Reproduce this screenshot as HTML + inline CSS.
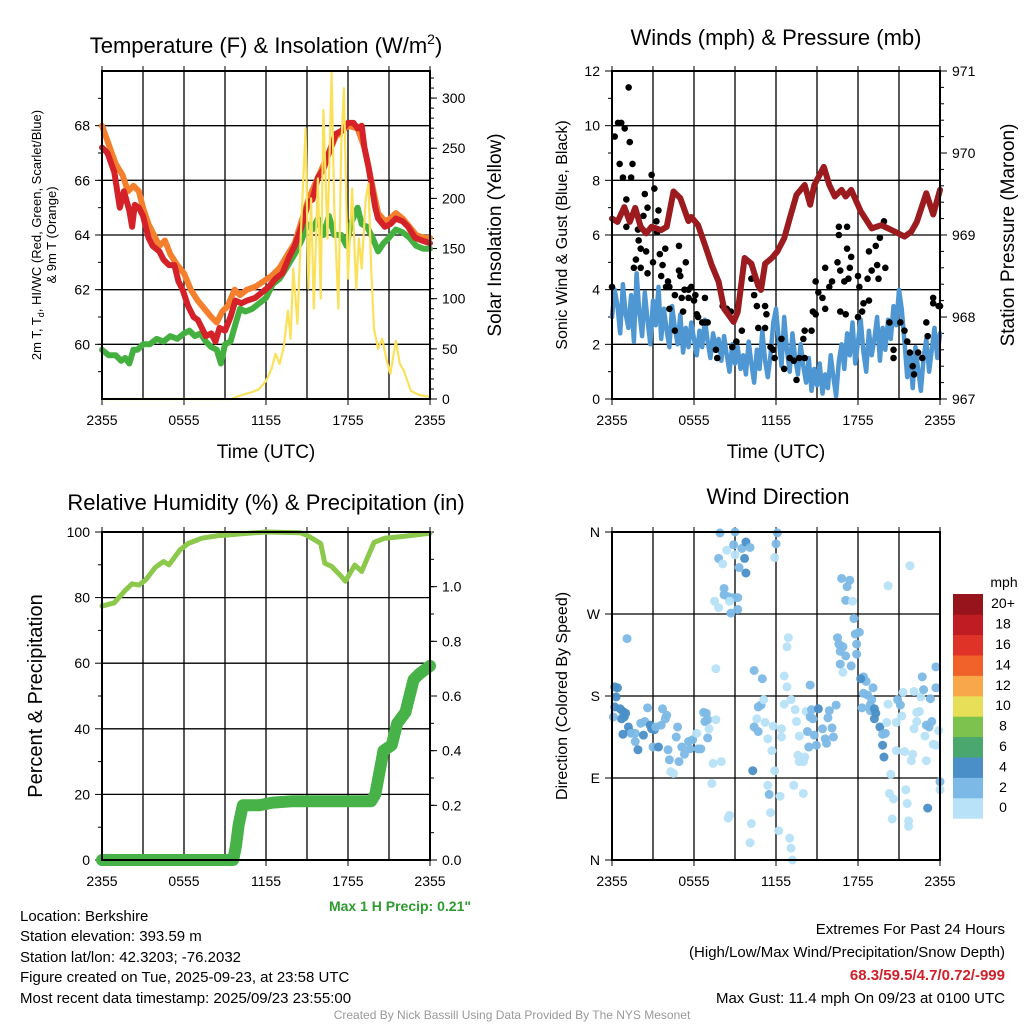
<!DOCTYPE html>
<html><head><meta charset="utf-8">
<style>
html,body{margin:0;padding:0;background:#fff;}
body{width:1024px;height:1024px;overflow:hidden;font-family:"Liberation Sans",sans-serif;}
svg text{font-family:"Liberation Sans",sans-serif;}
</style></head>
<body>
<svg id="fig" width="1024" height="1024" viewBox="0 0 1024 1024" xmlns="http://www.w3.org/2000/svg">
<g id="p1"></g>
<g id="p2"></g>
<g id="p3"></g>
<g id="p4"></g>
<g id="txt">
<text x="266" y="53" font-size="22" text-anchor="middle">Temperature (F) &amp; Insolation (W/m<tspan font-size="14" dy="-9">2</tspan><tspan dy="9">)</tspan></text>
<text x="776" y="45" font-size="22" text-anchor="middle">Winds (mph) &amp; Pressure (mb)</text>
<text x="266" y="510" font-size="22" text-anchor="middle">Relative Humidity (%) &amp; Precipitation (in)</text>
<text x="778" y="504" font-size="22" text-anchor="middle">Wind Direction</text>
<text x="266" y="458" font-size="19" text-anchor="middle">Time (UTC)</text>
<text x="776" y="458" font-size="19" text-anchor="middle">Time (UTC)</text>
<text transform="translate(41,235) rotate(-90)" font-size="13" text-anchor="middle">2m T, T<tspan font-size="9" dy="3">d</tspan><tspan dy="-3">, HI/WC (Red, Green, Scarlet/Blue)</tspan></text>
<text transform="translate(56,235) rotate(-90)" font-size="13" text-anchor="middle">&amp; 9m T (Orange)</text>
<text transform="translate(501,235) rotate(-90)" font-size="19" text-anchor="middle">Solar Insolation (Yellow)</text>
<text transform="translate(567,235) rotate(-90)" font-size="16" text-anchor="middle">Sonic Wind &amp; Gust (Blue, Black)</text>
<text transform="translate(1014,235) rotate(-90)" font-size="19" text-anchor="middle">Station Pressure (Maroon)</text>
<text transform="translate(42,696) rotate(-90)" font-size="20" text-anchor="middle">Percent &amp; Precipitation</text>
<text transform="translate(567,696) rotate(-90)" font-size="16" text-anchor="middle">Direction (Colored By Speed)</text>
<text x="471" y="911" font-size="14" font-weight="bold" fill="#2e9b2e" text-anchor="end">Max 1 H Precip: 0.21"</text>
<g font-size="15">
<text x="20" y="921">Location: Berkshire</text>
<text x="20" y="941">Station elevation: 393.59 m</text>
<text x="20" y="962">Station lat/lon: 42.3203; -76.2032</text>
<text x="20" y="982">Figure created on Tue, 2025-09-23, at 23:58 UTC</text>
<text x="20" y="1003">Most recent data timestamp: 2025/09/23 23:55:00</text>
</g>
<g font-size="15" text-anchor="end">
<text x="1005" y="934">Extremes For Past 24 Hours</text>
<text x="1005" y="957">(High/Low/Max Wind/Precipitation/Snow Depth)</text>
<text x="1005" y="980" fill="#d0202a" font-weight="bold">68.3/59.5/4.7/0.72/-999</text>
<text x="1005" y="1003">Max Gust: 11.4 mph On 09/23 at 0100 UTC</text>
</g>
<text x="512" y="1019" font-size="12" fill="#999" text-anchor="middle">Created By Nick Bassill Using Data Provided By The NYS Mesonet</text>
</g>
</svg>
<script>
// ---------- DATA ----------
const xTickLabels = ["2355","0555","1155","1755","2355"];
const tempT = [[0,67.2],[0.4,67.0],[0.9,66.3],[1.3,65.0],[1.6,65.6],[2.0,64.9],[2.2,64.3],[2.4,65.1],[2.7,65.0],[3.0,64.7],[3.4,63.9],[3.7,63.6],[4.2,63.4],[4.5,63.1],[4.9,62.9],[5.3,62.9],[5.6,62.3],[5.9,62.0],[6.3,61.4],[6.7,61.0],[7.0,60.9],[7.3,60.6],[7.6,60.3],[8.0,60.4],[8.3,60.1],[8.6,60.6],[9.0,60.5],[9.4,61.0],[9.75,61.6],[10.2,61.5],[10.6,61.6],[11.2,61.7],[11.7,61.9],[12.2,62.1],[12.7,62.4],[13.2,62.6],[13.7,63.2],[14.1,63.6],[14.6,64.3],[15.1,65.2],[15.4,65.3],[15.8,66.1],[16.2,66.4],[16.6,67.0],[17.1,67.7],[17.5,67.8],[18.0,68.1],[18.4,68.1],[18.7,67.9],[19.0,68.0],[19.2,67.2],[19.5,66.5],[19.7,65.9],[20.0,65.0],[20.2,64.6],[20.7,64.3],[21.1,64.4],[21.5,64.6],[22.0,64.5],[22.4,64.3],[22.9,63.9],[23.4,63.8],[24,63.7]];
const temp9m = [[0,68.0],[0.5,67.3],[1.0,66.6],[1.5,66.2],[1.9,65.6],[2.3,65.8],[2.7,65.6],[3.0,65.0],[3.4,64.4],[3.8,64.0],[4.2,63.6],[4.6,63.8],[5.0,63.3],[5.5,62.9],[6.0,62.6],[6.5,62.0],[7.0,61.6],[7.5,61.3],[8.0,61.0],[8.4,60.8],[8.8,61.2],[9.2,61.4],[9.7,62.0],[10.1,61.8],[10.6,62.0],[11.2,62.1],[11.8,62.3],[12.4,62.5],[13.0,62.8],[13.6,63.3],[14.1,63.7],[14.6,64.5],[15.1,65.3],[15.8,66.1],[16.6,67.0],[17.1,67.6],[18.0,68.0],[18.7,67.9],[19.2,67.2],[19.7,66.0],[20.2,64.8],[20.7,64.5],[21.1,64.6],[21.5,64.8],[22.0,64.6],[22.5,64.3],[23.0,64.0],[23.5,63.9],[24,63.9]];
const tempTd = [[0,59.8],[0.5,59.6],[1.0,59.6],[1.4,59.4],[1.7,59.5],[2.0,59.3],[2.3,59.8],[2.6,59.8],[3.0,60.0],[3.5,60.0],[4.0,60.2],[4.5,60.1],[5.0,60.3],[5.5,60.2],[6.0,60.4],[6.4,60.5],[6.8,60.3],[7.2,60.4],[7.6,60.1],[8.0,59.9],[8.4,59.8],[8.7,59.3],[9.0,60.0],[9.4,60.1],[9.8,60.8],[10.1,61.3],[10.5,61.2],[11.0,61.3],[11.5,61.5],[12.0,61.7],[12.5,62.2],[13.0,62.4],[13.5,62.8],[14.1,63.3],[14.6,63.8],[15.0,64.4],[15.4,64.2],[15.8,64.6],[16.2,64.0],[16.6,64.7],[17.0,64.0],[17.5,64.0],[17.9,63.6],[18.2,64.4],[18.7,65.0],[19.0,64.4],[19.4,64.3],[19.8,63.9],[20.2,63.4],[20.6,63.7],[21.0,63.9],[21.5,64.2],[22.0,64.1],[22.5,63.9],[23.0,63.6],[23.5,63.5],[24,63.5]];
const solar = [[0,0],[9.5,0],[10.0,3],[11.0,7],[11.5,10],[12.0,18],[12.4,30],[12.7,45],[13.0,35],[13.3,52],[13.6,88],[13.8,60],[14.0,130],[14.3,75],[14.6,180],[14.9,270],[15.1,110],[15.3,200],[15.5,90],[15.8,220],[16.0,100],[16.2,288],[16.5,160],[16.8,325],[17.0,190],[17.3,90],[17.5,250],[17.7,310],[18.0,120],[18.3,210],[18.6,110],[18.8,160],[19.0,130],[19.3,200],[19.5,215],[19.7,130],[19.9,70],[20.2,50],[20.5,60],[20.8,40],[21.1,25],[21.5,58],[21.8,35],[22.1,28],[22.6,8],[23.2,4],[24,2]];
// Panel 2 — sonic wind every 0.2 h
const windSpeed = [3.0,4.0,3.4,2.4,4.2,3.1,2.6,3.8,2.1,4.6,3.2,2.3,3.9,2.9,2.0,3.6,2.7,4.1,2.2,3.3,2.5,1.9,3.4,2.6,2.0,3.1,1.7,2.6,1.9,2.8,2.2,1.6,2.5,1.9,2.9,2.1,1.5,2.4,1.8,2.2,1.4,2.3,1.6,1.0,2.0,1.3,1.9,1.1,1.6,0.9,2.1,1.3,0.6,1.8,1.1,2.5,1.4,0.8,1.6,2.8,3.3,2.2,1.2,3.0,1.8,1.0,2.4,1.5,0.9,2.0,1.2,0.6,1.5,0.3,1.1,0.5,1.3,0.2,0.9,0.4,1.6,0.8,0.1,1.4,2.0,1.1,2.4,1.6,2.8,1.3,2.1,2.9,1.7,1.0,2.5,1.6,2.2,3.0,1.4,2.6,1.8,2.9,2.2,3.4,2.7,4.0,3.3,2.1,0.8,1.7,0.4,1.9,1.1,0.3,1.5,2.2,1.0,1.8,2.6,1.5,2.4];
const windStepHours = 0.2;
const gusts = [[0.0,4.1],[0.2,9.6],[0.44,10.1],[0.68,10.1],[0.93,9.9],[1.22,11.4],[1.3,9.4],[0.56,8.6],[0.8,8.1],[1.4,8.1],[1.5,8.6],[1.05,7.3],[2.9,8.2],[3.1,7.7],[2.4,7.5],[2.6,7.0],[3.4,6.9],[1.05,6.3],[1.9,6.2],[2.3,6.7],[3.25,6.5],[3.3,6.1],[1.95,5.8],[2.1,5.5],[2.5,5.4],[3.9,5.5],[3.5,5.3],[4.9,5.6],[1.75,5.1],[2.1,4.8],[1.6,4.8],[2.6,4.6],[3.0,5.0],[3.7,4.9],[5.4,5.0],[4.9,4.7],[5.0,4.5],[3.6,4.5],[4.1,4.3],[3.95,4.1],[4.2,4.1],[4.6,3.8],[5.1,3.7],[5.3,4.0],[5.6,4.0],[5.8,4.1],[6.1,3.8],[5.6,3.7],[6.0,3.6],[6.8,3.7],[5.2,3.2],[4.2,3.3],[6.2,3.1],[6.3,3.0],[6.6,2.8],[6.8,2.8],[7.0,2.8],[4.6,2.5],[7.6,1.8],[7.7,1.5],[8.1,3.4],[8.4,3.3],[8.7,3.2],[8.8,1.9],[9.1,2.1],[9.5,2.5],[10.2,4.4],[10.4,3.8],[10.6,3.4],[11.2,3.4],[11.3,3.1],[10.7,2.6],[11.2,2.6],[11.6,1.9],[11.8,1.8],[11.9,1.5],[12.4,2.2],[12.6,1.1],[13.0,1.5],[13.3,1.4],[13.5,0.7],[13.7,1.5],[14.1,1.5],[14.0,2.2],[14.1,2.5],[14.6,2.5],[14.7,3.2],[14.9,3.1],[15.1,3.9],[15.4,3.7],[15.6,3.3],[14.9,4.3],[15.9,4.1],[16.1,4.3],[15.6,4.8],[16.5,5.0],[16.7,4.7],[17.0,4.3],[17.3,4.4],[17.4,4.8],[18.0,4.5],[18.1,4.1],[17.2,5.5],[17.5,5.2],[16.6,6.3],[17.2,6.3],[16.6,6.0],[16.7,3.2],[17.1,3.1],[18.0,3.0],[18.3,3.2],[18.4,3.5],[18.7,4.4],[18.8,3.6],[18.8,5.4],[19.3,5.6],[19.6,5.9],[19.9,6.5],[19.4,4.9],[19.0,4.7],[19.5,4.4],[20.0,4.8],[20.3,2.8],[20.6,1.8],[20.6,1.5],[21.1,2.8],[21.4,2.5],[21.6,2.1],[21.8,1.7],[22.0,1.2],[22.1,0.9],[22.4,1.7],[22.7,1.5],[23.0,2.8],[23.1,2.3],[23.5,3.7],[23.5,3.5],[23.9,3.4],[24.0,3.4]];
const pressure = [[0,969.2],[0.4,969.16],[0.9,969.34],[1.3,969.16],[1.7,969.33],[2.1,969.1],[2.5,969.02],[2.9,969.1],[3.6,969.06],[4.0,969.1],[4.5,969.53],[5.0,969.45],[5.6,969.17],[5.8,969.22],[6.3,969.12],[6.8,968.88],[7.3,968.63],[7.8,968.43],[8.2,968.10],[8.9,967.94],[9.2,968.06],[9.7,968.72],[10.2,968.65],[10.7,968.38],[10.9,968.33],[11.2,968.65],[11.7,968.72],[12.1,968.80],[12.6,968.96],[13.0,969.20],[13.5,969.49],[14.1,969.61],[14.5,969.37],[14.8,969.61],[15.5,969.83],[15.9,969.61],[16.3,969.47],[16.8,969.55],[17.1,969.47],[17.5,969.55],[18.2,969.29],[19.0,969.08],[19.7,969.12],[20.2,969.08],[20.7,969.04],[21.4,968.98],[21.9,969.04],[22.3,969.16],[23.0,969.51],[23.5,969.25],[24,969.55]];
// Panel 3
const rh = [[0,77.4],[0.9,78.4],[1.7,82.2],[2.2,84.2],[2.7,83.8],[3.2,85.4],[3.9,89.2],[4.5,91.0],[4.9,90.0],[5.7,94.5],[6.3,96.5],[7.3,98.1],[8.5,98.9],[9.0,99.0],[10.0,99.4],[12.0,100],[14.5,99.8],[15.0,99.0],[15.6,97.5],[16.0,96.5],[16.3,90.5],[16.8,89.5],[17.5,86.5],[17.8,85.0],[18.5,89.9],[19.0,88.0],[19.9,96.8],[20.7,98.1],[21.9,98.6],[24,99.6]];
const precip = [[0,0],[9.6,0],[9.8,0.05],[10.0,0.13],[10.3,0.20],[11.5,0.20],[12.5,0.21],[14.0,0.215],[19.7,0.215],[20.0,0.24],[20.6,0.40],[21.2,0.42],[21.6,0.50],[22.2,0.54],[22.6,0.62],[22.8,0.66],[23.2,0.68],[24,0.71]];
// Panel 4 [hour, direction deg, speed mph]
const windDir = [[0.2,190,5],[0.4,189,5],[0.3,179,5],[0.2,168,5],[0.1,157,3],[0.6,166,5],[0.8,163,5],[1.0,161,5],[0.7,155,5],[0.9,157,5],[1.2,146,5],[1.3,141,5],[1.4,139,3],[0.8,138,5],[1.7,139,3],[1.7,130,3],[1.9,121,5],[2.1,150,3],[2.4,152,3],[2.3,137,5],[2.6,167,3],[2.8,148,5],[2.9,144,5],[3.1,143,5],[3.2,146,3],[3.0,124,3],[3.4,124,5],[3.6,148,3],[3.7,166,3],[3.9,155,3],[4.0,159,3],[4.1,121,3],[4.2,110,3],[4.3,97,1],[4.5,95,1],[4.7,135,3],[4.8,146,3],[4.9,108,3],[5.1,124,3],[5.3,116,3],[5.6,130,3],[5.7,122,3],[5.9,132,3],[6.2,139,1],[6.3,122,3],[6.5,122,3],[6.7,162,3],[6.9,161,3],[6.8,152,3],[7.0,154,3],[7.1,144,1],[7.0,134,3],[7.6,154,1],[7.4,106,1],[8.0,108,1],[7.3,84,1],[8.5,46,1],[8.6,49,1],[7.6,210,1],[1.1,243,3],[7.9,359,3],[9.0,360,3],[8.4,340,1],[8.9,346,3],[9.0,335,1],[7.8,331,3],[8.1,325,1],[9.5,342,3],[9.7,331,5],[9.8,315,5],[9.3,321,3],[9.8,349,5],[10.1,343,3],[8.2,298,3],[8.2,291,3],[8.5,289,3],[8.9,288,3],[9.2,288,3],[7.5,284,1],[7.8,277,1],[8.6,284,1],[8.7,271,3],[9.2,275,3],[12.1,359,3],[12.0,347,3],[11.9,332,1],[10.4,208,3],[11.0,199,3],[10.7,168,3],[10.9,170,3],[11.1,176,1],[10.6,155,1],[10.4,146,3],[10.7,141,3],[11.2,151,1],[11.8,147,1],[11.4,133,1],[11.7,120,1],[10.3,98,5],[11.9,98,1],[11.4,82,1],[11.5,72,3],[11.6,52,1],[10.2,40,1],[10.1,19,1],[12.2,32,1],[12.3,70,1],[13.0,24,1],[13.1,13,1],[13.2,0,1],[12.9,244,1],[12.8,234,1],[12.6,202,1],[12.8,190,1],[12.6,171,1],[13.1,176,1],[13.4,165,1],[13.5,152,1],[12.4,144,1],[12.4,135,1],[13.7,136,1],[13.6,115,1],[13.7,108,1],[14.0,108,1],[14.1,113,1],[13.3,82,1],[14.0,73,1],[14.5,192,3],[14.2,163,1],[14.6,165,3],[14.5,157,3],[15.1,166,5],[14.7,155,3],[14.3,141,3],[14.8,137,3],[14.95,126,3],[14.4,124,3],[15.4,144,3],[15.6,133,3],[15.7,128,3],[15.8,156,3],[15.9,164,3],[16.1,145,3],[16.2,135,3],[16.4,170,3],[16.8,309,3],[17.4,307,3],[17.2,300,3],[17.1,285,3],[17.6,284,1],[17.7,265,3],[17.8,248,3],[18.1,250,3],[16.5,244,3],[16.6,237,3],[16.9,234,3],[17.9,237,3],[17.1,224,3],[16.7,229,3],[17.9,226,3],[16.7,215,3],[17.5,213,3],[16.9,206,1],[20.2,301,1],[21.8,323,1],[18.4,201,3],[18.6,196,3],[18.2,199,5],[19.1,189,3],[18.4,183,3],[18.7,181,3],[19.0,176,3],[18.9,170,3],[18.3,167,3],[18.9,164,3],[19.2,166,5],[19.3,161,5],[19.2,155,5],[19.6,146,5],[19.8,138,3],[20.0,139,3],[20.1,151,1],[20.2,171,1],[19.8,126,5],[19.9,113,5],[20.8,151,1],[20.9,176,3],[21.1,170,3],[21.2,158,1],[21.3,184,1],[20.8,120,1],[21.4,119,1],[22.0,116,1],[21.9,109,1],[23.0,109,1],[20.4,94,1],[20.3,73,1],[20.6,67,1],[20.5,45,1],[21.5,77,1],[21.6,62,1],[21.7,43,1],[21.7,37,1],[23.1,57,5],[22.1,185,1],[22.6,179,1],[22.8,187,3],[22.7,201,3],[23.7,189,3],[23.7,212,3],[23.3,177,3],[22.3,162,1],[22.5,163,1],[22.3,152,1],[22.1,144,1],[23.0,148,3],[23.2,146,3],[23.4,152,3],[23.9,142,1],[22.9,136,1],[23.5,127,1],[23.7,126,1],[24.0,86,3],[24.0,77,1]];
const speedBinLabels = ["0","2","4","6","8","10","12","14","16","18","20+"];
const speedBinColors = ["#b7e2f8","#7cb9e6","#4a8fc8","#4aa76e","#7cc24c","#e8df58","#f8a848","#f06228","#e03328","#c01c24","#98141c"];

// ---------- HELPERS ----------
const NS="http://www.w3.org/2000/svg";
function mk(parent,tag,attrs){const e=document.createElementNS(NS,tag);for(const k in attrs)e.setAttribute(k,attrs[k]);parent.appendChild(e);return e;}
function panel(x0,y0,w,h,yMin,yMax,y2Min,y2Max){
  return {x:t=>x0+t/24*w, y:v=>y0+h-(v-yMin)/(yMax-yMin)*h, y2:v=>y0+h-(v-y2Min)/(y2Max-y2Min)*h, x0,y0,w,h};
}
function frame(g,P,yTicks,yMinor,yFmt,yLabels,r2Ticks,r2Minor,r2Fmt,hgrid){
  for(let i=1;i<8;i++){const x=P.x(i*3);
    const l=mk(g,'line',{x1:x,y1:P.y0,x2:x,y2:P.y0+P.h,stroke:'#000','stroke-width':1.3});
    
    }
  for(const v of yTicks){const y=P.y(v);
    if(hgrid){const l=mk(g,'line',{x1:P.x0,y1:y,x2:P.x0+P.w,y2:y,stroke:'#000','stroke-width':1.3});
      
      }
    mk(g,'line',{x1:P.x0-7,y1:y,x2:P.x0,y2:y,stroke:'#000','stroke-width':1});
    const t=mk(g,'text',{x:P.x0-12,y:y+5,'font-size':14,'text-anchor':'end'});
    t.textContent=yFmt(v);
    
    }
  for(const v of yMinor){const y=P.y(v);mk(g,'line',{x1:P.x0-4,y1:y,x2:P.x0,y2:y,stroke:'#000','stroke-width':1});}
  for(const v of r2Ticks){const y=P.y2(v);const xr=P.x0+P.w;
    mk(g,'line',{x1:xr,y1:y,x2:xr+7,y2:y,stroke:'#000','stroke-width':1});
    const t=mk(g,'text',{x:xr+12,y:y+5,'font-size':14});
    t.textContent=r2Fmt(v);
    
    }
  for(const v of r2Minor){const y=P.y2(v);const xr=P.x0+P.w;mk(g,'line',{x1:xr,y1:y,x2:xr+4,y2:y,stroke:'#000','stroke-width':1});}
  for(let i=0;i<5;i++){const x=P.x(i*6);
    mk(g,'line',{x1:x,y1:P.y0+P.h,x2:x,y2:P.y0+P.h+6,stroke:'#000','stroke-width':1});
    const t=mk(g,'text',{x:x,y:P.y0+P.h+26,'font-size':14,'text-anchor':'middle'});
    t.textContent=xTickLabels[i];
    
    }
  for(let i=0;i<=8;i++){const x=P.x(i*3);mk(g,'line',{x1:x,y1:P.y0,x2:x,y2:P.y0-5,stroke:'#000','stroke-width':1});}
}
function border(g,P){const r=mk(g,'rect',{x:P.x0,y:P.y0,width:P.w,height:P.h,fill:'none',stroke:'#000','stroke-width':2});
  
  }
function path(g,pts,fx,fy,color,w,name){
  const d=pts.map((p,i)=>(i?'L':'M')+fx(p[0]).toFixed(1)+','+fy(p[1]).toFixed(1)).join('');
  const e=mk(g,'path',{d:d,fill:'none',stroke:color,'stroke-width':w,'stroke-linejoin':'round','stroke-linecap':'round'});
  
  
  return e;}
function range(a,b,s){const r=[];for(let v=a;v<=b+1e-9;v+=s)r.push(+v.toFixed(4));return r;}

// ---------- PANEL 1 ----------
{const g=document.getElementById('p1');
 const P=panel(102,71,328,328,58,70,0,327);
 frame(g,P,[60,62,64,66,68],range(59,69,1),v=>v,null,[0,50,100,150,200,250,300],range(0,320,10),v=>v,true);
 path(g,tempTd,P.x,P.y,'#43b040',6,'dewpoint-line');
 path(g,temp9m,P.x,P.y,'#f47f2c',6,'nine-meter-temp-line');
 path(g,tempT,P.x,P.y,'#d42228',6,'two-meter-temp-line');
 path(g,solar,P.x,P.y2,'#fbe15a',2.2,'solar-insolation-line');
 border(g,P);}
// ---------- PANEL 2 ----------
{const g=document.getElementById('p2');
 const P=panel(612,71,328,328,0,12,967,971);
 frame(g,P,[0,2,4,6,8,10,12],range(1,11,2),v=>v,null,[967,968,969,970,971],range(967,971,0.2),v=>v,true);
 const wpts=windSpeed.map((v,i)=>[i*windStepHours,v]);
 path(g,wpts,P.x,P.y,'#4f97d3',4.5,'sonic-wind-line');
 for(const p of gusts){const c=mk(g,'circle',{cx:P.x(p[0]),cy:P.y(p[1]),r:3.3,fill:'#000'});
   
   }
 path(g,pressure,P.x,P.y2,'#9b1b1e',6,'pressure-line');
 border(g,P);}
// ---------- PANEL 3 ----------
{const g=document.getElementById('p3');
 const P=panel(102,532,328,328,0,100,0,1.2);
 frame(g,P,[0,20,40,60,80,100],range(10,90,20),v=>v,null,[0,0.2,0.4,0.6,0.8,1.0],range(0,1.2,0.1),v=>v.toFixed(1),true);
 path(g,rh,P.x,P.y,'#8cc84b',5,'relative-humidity-line');
 path(g,precip,P.x,P.y2,'#46b248',12,'precipitation-line');
 border(g,P);}
// ---------- PANEL 4 ----------
{const g=document.getElementById('p4');
 const P=panel(612,532,328,328,0,360,0,1);
 frame(g,P,[0,90,180,270,360],[],v=>({0:'N',90:'E',180:'S',270:'W',360:'N'})[v],null,[],[],v=>v,true);
 for(const p of windDir){const bin=Math.min(10,Math.floor(p[2]/2));
   const c=mk(g,'circle',{cx:P.x(p[0]),cy:P.y(p[1]),r:4.5,fill:speedBinColors[bin],'fill-opacity':0.95});
   
   }
 border(g,P);
 const cb=mk(g,'g',{});
 
 
 const bh=20.4, top=594;
 for(let i=0;i<11;i++){const y=top+(10-i)*bh;
   const r=mk(cb,'rect',{x:953,y:y,width:30,height:bh+0.3,fill:speedBinColors[i]});
   
   
   const t=mk(cb,'text',{x:1003,y:y+bh/2+4,'font-size':14,'text-anchor':'middle'});
   t.textContent=speedBinLabels[i];
   
   }
 const u=mk(cb,'text',{x:1004,y:587,'font-size':14,'text-anchor':'middle'});
 u.textContent='mph';
 
 }
</script>
</body></html>
